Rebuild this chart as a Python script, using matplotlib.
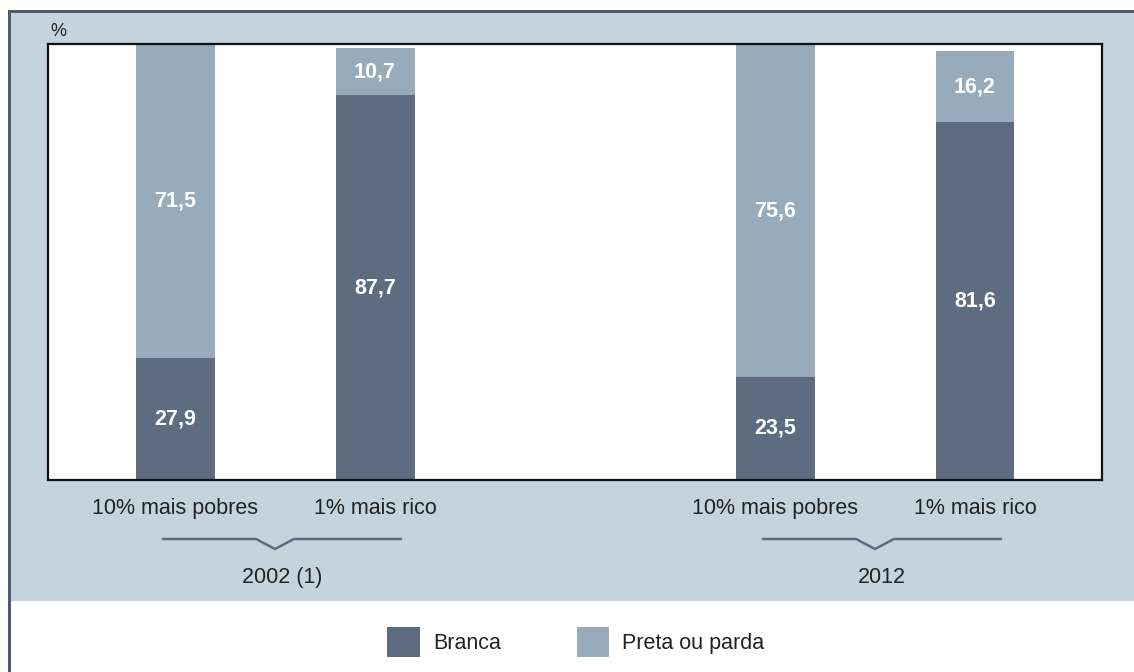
import numpy as np
import matplotlib
matplotlib.use("Agg")
import matplotlib.pyplot as plt
from matplotlib.patches import Rectangle

plt.rcParams['font.family'] = ['Liberation Sans', 'DejaVu Sans']

# distribuição por cor/raça nos extremos de renda
years = ["2002 (1)", "2012"]
groups = ["10% mais pobres", "1% mais rico", "10% mais pobres", "1% mais rico"]
branca = [27.9, 87.7, 23.5, 81.6]
preta_parda = [71.5, 10.7, 75.6, 16.2]
series_names = ["Branca", "Preta ou parda"]

c_dark = "#5e6c82"
c_light = "#97abbb"
c_bg = "#c5d3dc"
c_border = "#4b5b75"
c_text = "#222222"

def fmt(v):
    return f"{v:.1f}".replace(".", ",")

fig = plt.figure(figsize=(11.34, 6.72), dpi=100)
fig.patch.set_facecolor("white")

# fundo azulado e moldura
W, H = 1134, 672
fig.patches.append(Rectangle((11 / W, (H - 601) / H), 1 - 11 / W, (601 - 13) / H,
                             transform=fig.transFigure, facecolor=c_bg, edgecolor="none", zorder=-2))
fig.patches.append(Rectangle((8 / W, (H - 13) / H), 1 - 8 / W, 3 / H,
                             transform=fig.transFigure, facecolor=c_border, edgecolor="none", zorder=-1))
fig.patches.append(Rectangle((8 / W, 0), 3 / W, (H - 10) / H,
                             transform=fig.transFigure, facecolor=c_border, edgecolor="none", zorder=-1))

ax = fig.add_axes([48 / W, (H - 480) / H, (1102 - 48) / W, (480 - 44) / H])
ax.set_zorder(2)
ax.set_facecolor("white")

x = np.array([0, 1, 3, 4])
width = 0.395
b1 = ax.bar(x, branca, width, color=c_dark, label=series_names[0])
b2 = ax.bar(x, preta_parda, width, bottom=branca, color=c_light, label=series_names[1])

for xi, lo, hi in zip(x, branca, preta_parda):
    ax.text(xi, lo / 2, fmt(lo), ha="center", va="center", color="white",
            fontsize=15.5, fontweight="bold")
    ax.text(xi, lo + hi / 2, fmt(hi), ha="center", va="center", color="white",
            fontsize=15.5, fontweight="bold")

ax.set_xlim(-0.635, 4.635)
ax.set_ylim(0, max(a + b for a, b in zip(branca, preta_parda)))
ax.set_yticks([])
ax.set_xticks(x)
ax.set_xticklabels(groups, fontsize=15.5, color=c_text)
ax.tick_params(axis="x", length=0, pad=13)
for s in ax.spines.values():
    s.set_color("#111111")
    s.set_linewidth(1.6)

# chaves agrupando os anos
tr = ax.get_xaxis_transform()
for g, year in zip([0, 3], years):
    bx = [g - 0.06, g + 0.405, g + 0.5, g + 0.595, g + 1.13]
    by = [-0.1353, -0.1353, -0.1583, -0.1353, -0.1353]
    ax.plot(bx, by, color=c_dark, lw=1.8, transform=tr, clip_on=False)
    ax.text(g + 0.535, -0.2225, year, transform=tr, ha="center", va="center",
            fontsize=15.5, color=c_text)

fig.text(58 / W, (H - 31) / H, "%", ha="center", va="center", fontsize=13, color=c_text)

fig.legend(handles=[b1, b2], labels=series_names, loc="center",
           bbox_to_anchor=(576 / W, (H - 642) / H), ncol=2, frameon=False,
           fontsize=15.5, handlelength=1.53, handleheight=1.75,
           handletextpad=0.6, columnspacing=3.5, labelcolor=c_text)

fig.savefig("out.png", dpi=100)
